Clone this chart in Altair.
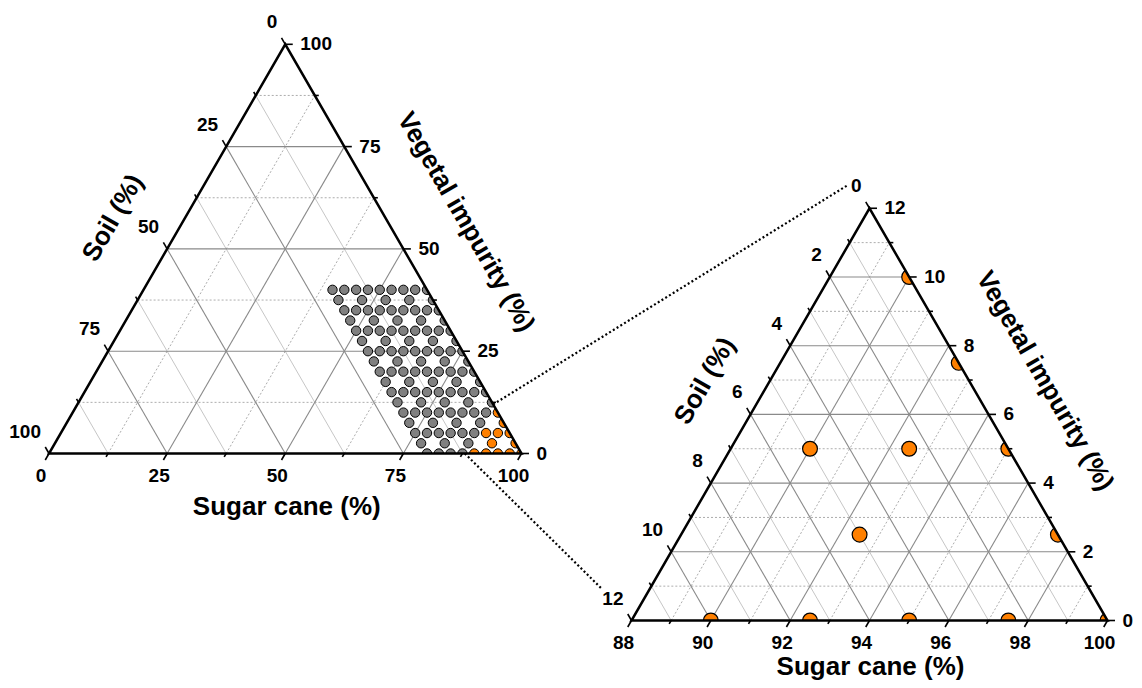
import math
import numpy as np
import pandas as pd
import altair as alt

# ---------------- data ----------------
# Design grid of the mixtures: vegetal impurity rows and soil levels (%)
vegetal_full_rows = [0, 5, 10, 15, 20, 25, 30, 35, 40]
vegetal_half_rows = [2.5, 7.5, 12.5, 17.5, 22.5, 27.5, 32.5, 37.5]
soil_full_levels = [0, 2.5, 5, 7.5, 10, 12.5, 15, 17.5, 20]
soil_half_levels = [0, 5, 10, 15, 20]

# zoom window: sugar cane 88-100 %, vegetal 0-12 %, soil 0-12 %
zoom_sugar_min = 88
zoom_span = 12

# axis ticks
main_major = [0, 25, 50, 75, 100]
main_minor = [12.5, 37.5, 62.5, 87.5]
zoom_major = [0, 2, 4, 6, 8, 10, 12]
zoom_minor = [1, 3, 5, 7, 9, 11]
zoom_sugar_labels = [88, 90, 92, 94, 96, 98, 100]

TITLE_SUGAR = "Sugar cane (%)"
TITLE_SOIL = "Soil (%)"
TITLE_VEG = "Vegetal impurity (%)"

# ---------------- layout ----------------
FONT = "Liberation Sans"
H = math.sqrt(3) / 2
TRI = {
    "main": dict(x0=49.0, y0=453.5, side=472.5, smin=0.0, span=100.0),
    "zoom": dict(x0=631.5, y0=620.5, side=476.0, smin=float(zoom_sugar_min), span=float(zoom_span)),
}


def proj(t, a, b):
    """normalized sugar a, normalized vegetal b -> page position"""
    return t["x0"] + (a + b / 2) * t["side"], t["y0"] - b * H * t["side"]


# sample points
rows = []
for v in vegetal_full_rows:
    for so in soil_full_levels:
        rows.append((100 - v - so, v, so))
for v in vegetal_half_rows:
    for so in soil_half_levels:
        rows.append((100 - v - so, v, so))
samples = pd.DataFrame(rows, columns=["sugar", "vegetal", "soil"])
samples["cat"] = np.where(samples["sugar"] >= zoom_sugar_min, "zoom", "outside")

tm = TRI["main"]
main_pts = samples.copy()
xy = [proj(tm, s / 100, v / 100) for s, v in zip(main_pts["sugar"], main_pts["vegetal"])]
main_pts["x"] = [p[0] for p in xy]
main_pts["y"] = [p[1] for p in xy]

tz = TRI["zoom"]
zoom_pts = samples[samples["cat"] == "zoom"].copy()
xy = [proj(tz, (s - zoom_sugar_min) / zoom_span, v / zoom_span)
      for s, v in zip(zoom_pts["sugar"], zoom_pts["vegetal"])]
zoom_pts["x"] = [p[0] for p in xy]
zoom_pts["y"] = [p[1] for p in xy]

# grid, ticks, labels
grid, ticks, lab_bottom, lab_right, lab_left = [], [], [], [], []
for name, major, minor, bottom_labels in (
    ("main", main_major, main_minor, main_major),
    ("zoom", zoom_major, zoom_minor, zoom_sugar_labels),
):
    t = TRI[name]
    for kind, vals, L in (("major", major, 7.5), ("minor", minor, 4.0)):
        for i, val in enumerate(vals):
            f = val / t["span"]
            if 0 < f < 1:
                for fam, (a1, b1, a2, b2) in (
                    ("veg", (0, f, 1 - f, f)),
                    ("sugar", (f, 0, f, 1 - f)),
                    ("soil", (1 - f, 0, 0, 1 - f)),
                ):
                    x1, y1 = proj(t, a1, b1)
                    x2, y2 = proj(t, a2, b2)
                    if kind == "major":
                        style = "major"
                    elif fam == "soil":
                        style = "minor_solid"
                    else:
                        style = "minor_dot"
                    grid.append(dict(x=x1, y=y1, x2=x2, y2=y2, style=style))
            # ticks
            bx, by = proj(t, f, 0)
            ticks.append(dict(x=bx, y=by, x2=bx - 0.5 * L, y2=by + H * L))
            rx, ry = proj(t, 1 - f, f)
            ticks.append(dict(x=rx, y=ry, x2=rx + L, y2=ry))
            lx, ly = proj(t, 0, 1 - f)
            ticks.append(dict(x=lx, y=ly, x2=lx - 0.5 * L, y2=ly - H * L))
            if kind == "major":
                lab_bottom.append(dict(x=bx, y=by, text=str(bottom_labels[i])))
                lab_right.append(dict(x=rx, y=ry, text=str(val)))
                lab_left.append(dict(x=lx, y=ly, text=str(val)))

grid = pd.DataFrame(grid)
ticks = pd.DataFrame(ticks)
lab_bottom = pd.DataFrame(lab_bottom)
lab_right = pd.DataFrame(lab_right)
lab_left = pd.DataFrame(lab_left)

# white strips that clip the markers at the triangle edges
masks = []
for name, w, ext in (("main", 8.0, 12.0), ("zoom", 12.0, 16.0)):
    t = TRI[name]
    BLx, BLy = proj(t, 0, 0)
    BRx, BRy = proj(t, 1, 0)
    Ax, Ay = proj(t, 0, 1)
    masks.append(dict(x=BLx, y=BLy + w / 2, x2=BRx + ext, y2=BRy + w / 2, w=w))
    nx, ny = H * w / 2, -0.5 * w / 2
    masks.append(dict(x=Ax + nx, y=Ay + ny, x2=BRx + 0.5 * ext + nx, y2=BRy + H * ext + ny, w=w))
masks = pd.DataFrame(masks)

# triangle frames (closed path starting mid-bottom)
frames = []
for name in ("main", "zoom"):
    t = TRI[name]
    for k, (a, b) in enumerate(((0.5, 0), (1, 0), (0, 1), (0, 0), (0.5, 0))):
        x, y = proj(t, a, b)
        frames.append(dict(tri=name, k=k, x=x, y=y))
frames = pd.DataFrame(frames)

# dotted connectors from the zoom window to the enlarged triangle
s1 = proj(tm, zoom_sugar_min / 100, zoom_span / 100)
s2 = proj(tm, zoom_sugar_min / 100, 0)
apx, apy = proj(tz, 0, 1)
blx, bly = proj(tz, 0, 0)
connectors = pd.DataFrame([
    dict(x=s1[0], y=s1[1], x2=apx - 22, y2=apy - 23),
    dict(x=s2[0], y=s2[1], x2=blx - 30, y2=bly - 32),
])

titles_h = pd.DataFrame([
    dict(x=(tm["x0"] + tm["side"] / 2) + 1.5, y=515.0, text=TITLE_SUGAR),
    dict(x=(tz["x0"] + tz["side"] / 2) + 1.0, y=674.5, text=TITLE_SUGAR),
])
titles_r = pd.DataFrame([
    dict(x=113.0, y=218.0, text=TITLE_SOIL, angle=300),
    dict(x=466.0, y=222.0, text=TITLE_VEG, angle=60),
    dict(x=705.0, y=381.0, text=TITLE_SOIL, angle=300),
    dict(x=1045.0, y=381.0, text=TITLE_VEG, angle=60),
])

# ---------------- chart ----------------
W, HT = 1126, 672
XS = alt.Scale(domain=[8, 8 + W], nice=False, zero=False)
YS = alt.Scale(domain=[8 + HT, 8], nice=False, zero=False)


def X(f="x"):
    return alt.X(f"{f}:Q", scale=XS, axis=None)


def Y(f="y"):
    return alt.Y(f"{f}:Q", scale=YS, axis=None)


def seg(df, **kw):
    return alt.Chart(df).mark_rule(**kw).encode(x=X(), y=Y(), x2="x2:Q", y2="y2:Q")


g_major = seg(grid[grid["style"] == "major"], color="#8a8a8a", strokeWidth=1.1)
g_minor_s = seg(grid[grid["style"] == "minor_solid"], color="#c6c6c6", strokeWidth=1.0)
g_minor_d = seg(grid[grid["style"] == "minor_dot"], color="#adadad", strokeWidth=1.0, strokeDash=[2, 2])

color = alt.Color("cat:N", scale=alt.Scale(domain=["outside", "zoom"], range=["#808080", "#ff8000"]), legend=None)
p_main = alt.Chart(main_pts).mark_point(shape="circle", filled=True, size=88, stroke="black",
                                         strokeWidth=1, opacity=1).encode(x=X(), y=Y(), fill=color)
p_zoom = alt.Chart(zoom_pts).mark_point(shape="circle", filled=True, size=220, stroke="black",
                                         strokeWidth=1.2, opacity=1).encode(x=X(), y=Y(), fill=color)

mask_layer = alt.Chart(masks).mark_rule(color="white").encode(
    x=X(), y=Y(), x2="x2:Q", y2="y2:Q", strokeWidth=alt.StrokeWidth("w:Q", scale=None))

frame_layer = alt.Chart(frames).mark_line(color="black", strokeWidth=2.5, strokeJoin="miter").encode(
    x=X(), y=Y(), order="k:Q", detail="tri:N")

tick_layer = seg(ticks, color="black", strokeWidth=1.6)

txt = dict(font=FONT, fontWeight="bold", fontSize=19, color="black")
t_bottom = alt.Chart(lab_bottom).mark_text(align="center", baseline="middle", dx=-8, dy=22, **txt).encode(
    x=X(), y=Y(), text="text:N")
t_right = alt.Chart(lab_right).mark_text(align="left", baseline="middle", dx=15, dy=0, **txt).encode(
    x=X(), y=Y(), text="text:N")
t_left = alt.Chart(lab_left).mark_text(align="right", baseline="middle", dx=-8, dy=-22, **txt).encode(
    x=X(), y=Y(), text="text:N")

ttl = dict(font=FONT, fontWeight="bold", fontSize=26, color="black")
t_titles_h = alt.Chart(titles_h).mark_text(align="center", baseline="alphabetic", **ttl).encode(
    x=X(), y=Y(), text="text:N")
t_titles_r = alt.Chart(titles_r).mark_text(align="center", baseline="middle", **ttl).encode(
    x=X(), y=Y(), text="text:N", angle=alt.Angle("angle:Q", scale=None))

conn = seg(connectors, color="black", strokeWidth=2.2, strokeDash=[2, 2.4])

chart = alt.layer(
    g_minor_s, g_minor_d, g_major, p_main, p_zoom, mask_layer, frame_layer, tick_layer,
    t_bottom, t_right, t_left, t_titles_h, t_titles_r, conn,
).properties(
    width=W, height=HT, autosize=alt.AutoSizeParams(type="none"), padding=0,
).configure_view(stroke=None)

chart.save("out.html", embed_options={"renderer": "svg", "actions": False})
